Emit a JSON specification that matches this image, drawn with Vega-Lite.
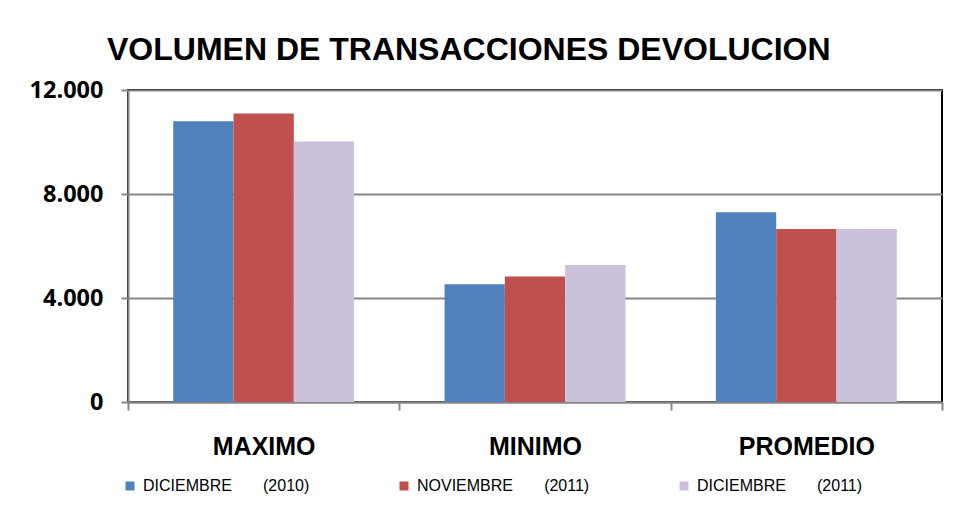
{
  "$schema": "https://vega.github.io/schema/vega-lite/v6.json",
  "width": 814,
  "height": 312,
  "autosize": {"type": "none"},
  "padding": {"left": 128, "top": 90, "right": 11, "bottom": 104},
  "background": "white",
  "title": {
    "text": "VOLUMEN DE TRANSACCIONES DEVOLUCION",
    "font": "Liberation Sans",
    "fontSize": 32,
    "fontWeight": "bold",
    "color": "#000000",
    "anchor": "start",
    "frame": "group",
    "dx": -21,
    "baseline": "alphabetic",
    "offset": -14
  },
  "data": {
    "values": [
      {"categoria": "MAXIMO", "serie": "DICIEMBRE (2010)", "valor": 10800},
      {"categoria": "MAXIMO", "serie": "NOVIEMBRE (2011)", "valor": 11100},
      {"categoria": "MAXIMO", "serie": "DICIEMBRE (2011)", "valor": 10020},
      {"categoria": "MINIMO", "serie": "DICIEMBRE (2010)", "valor": 4530},
      {"categoria": "MINIMO", "serie": "NOVIEMBRE (2011)", "valor": 4825},
      {"categoria": "MINIMO", "serie": "DICIEMBRE (2011)", "valor": 5270},
      {"categoria": "PROMEDIO", "serie": "DICIEMBRE (2010)", "valor": 7300},
      {"categoria": "PROMEDIO", "serie": "NOVIEMBRE (2011)", "valor": 6650},
      {"categoria": "PROMEDIO", "serie": "DICIEMBRE (2011)", "valor": 6650}
    ]
  },
  "mark": {"type": "bar"},
  "encoding": {
    "x": {
      "field": "categoria",
      "type": "nominal",
      "sort": ["MAXIMO", "MINIMO", "PROMEDIO"],
      "scale": {"paddingInner": 0, "paddingOuter": 0},
      "axis": {
        "title": null,
        "labelAngle": 0,
        "labelFont": "Liberation Sans",
        "labelFontSize": 25,
        "labelFontWeight": "bold",
        "labelColor": "#000000",
        "labelPadding": 24,
        "tickBand": "extent",
        "tickSize": 8,
        "tickColor": "#868686",
        "tickWidth": 2,
        "domainColor": "#868686",
        "domainWidth": 2,
        "grid": false
      }
    },
    "xOffset": {
      "field": "serie",
      "type": "nominal",
      "sort": ["DICIEMBRE (2010)", "NOVIEMBRE (2011)", "DICIEMBRE (2011)"],
      "scale": {"paddingInner": 0, "paddingOuter": 0.75}
    },
    "y": {
      "field": "valor",
      "type": "quantitative",
      "scale": {"domain": [0, 12000], "nice": false},
      "axis": {
        "title": null,
        "values": [0, 4000, 8000, 12000],
        "labelExpr": "replace(format(datum.value, ','), ',', '.')",
        "labelFont": "Open Sans",
        "labelFontSize": 23.5,
        "labelFontWeight": "bold",
        "labelColor": "#000000",
        "labelPadding": 18,
        "tickSize": 7,
        "tickColor": "#868686",
        "tickWidth": 2,
        "domainColor": "#868686",
        "domainWidth": 2,
        "gridColor": "#868686",
        "gridWidth": 2
      }
    },
    "color": {
      "field": "serie",
      "type": "nominal",
      "scale": {
        "domain": ["DICIEMBRE (2010)", "NOVIEMBRE (2011)", "DICIEMBRE (2011)"],
        "range": ["#4F81BD", "#C0504D", "#CCC1DA"]
      },
      "legend": {
        "title": null,
        "orient": "none",
        "direction": "horizontal",
        "legendX": -6,
        "legendY": 388,
        "symbolType": "square",
        "symbolSize": 81,
        "symbolStrokeWidth": 0,
        "labelFont": "Liberation Sans",
        "labelFontSize": 16,
        "labelColor": "#000000",
        "labelOffset": 5,
        "columnPadding": 86,
        "padding": 0,
        "labelLimit": 300,
        "labelExpr": "replace(datum.label, ' (', '\u00a0\u00a0\u00a0\u00a0\u00a0\u00a0 (')"
      }
    }
  },
  "config": {
    "view": {"stroke": "#000000", "strokeWidth": 2},
    "axis": {"labelFlush": false}
  }
}
